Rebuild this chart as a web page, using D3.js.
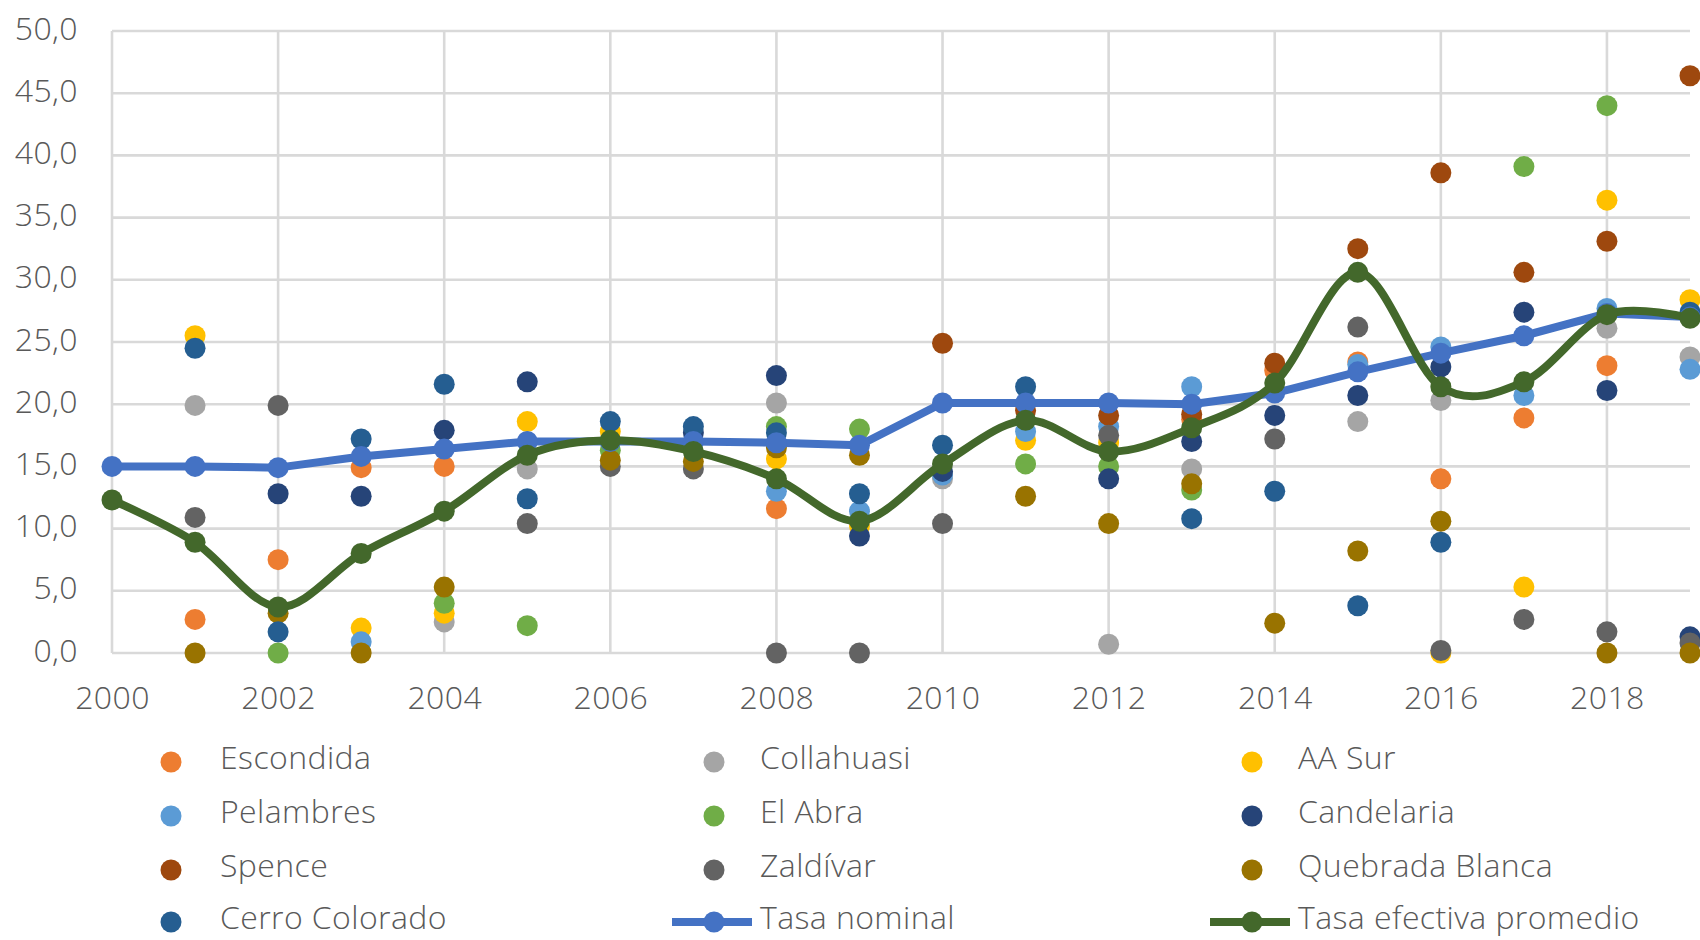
<!DOCTYPE html>
<html>
<head>
<meta charset="utf-8">
<script src="https://cdn.jsdelivr.net/npm/d3@7"></script>
<style>
  html, body { margin: 0; padding: 0; background: #ffffff; }
  svg { display: block; }
  text { font-family: "Open Sans", "DejaVu Sans", sans-serif; fill: #595959; font-weight: 300; letter-spacing: 0.4px; }
</style>
</head>
<body>
<svg id="chart" width="1700" height="940"></svg>
<script>
// ---- data ----
const years = [2000,2001,2002,2003,2004,2005,2006,2007,2008,2009,2010,2011,2012,2013,2014,2015,2016,2017,2018,2019];
const xTickYears = [2000,2002,2004,2006,2008,2010,2012,2014,2016,2018];
const yTickValues = [0,5,10,15,20,25,30,35,40,45,50];

const escondida      = [null, 2.7, 7.5, 14.9, 15.0, null, null, null, 11.6, null, null, null, null, 18.8, 22.7, 23.4, 14.0, 18.9, 23.1, null];
const collahuasi     = [null, 19.9, null, null, 2.5, 14.8, null, null, 20.1, null, 14.0, null, 0.7, 14.8, null, 18.6, 20.3, null, 26.1, 23.8];
const aaSur          = [null, 25.5, null, 2.0, 3.2, 18.6, 17.8, null, 15.6, 10.2, null, 17.1, 16.9, null, null, null, 0.0, 5.3, 36.4, 28.4];
const pelambres      = [null, null, null, 0.9, null, null, null, null, 13.0, 11.4, 14.3, 17.8, 18.2, 21.4, null, 23.2, 24.6, 20.7, 27.7, 22.8];
const elAbra         = [null, null, 0.0, null, 4.0, 2.2, 16.3, null, 18.2, 18.0, null, 15.2, 15.0, 13.1, null, null, null, 39.1, 44.0, null];
const candelaria     = [null, null, 12.8, 12.6, 17.9, 21.8, null, 17.7, 22.3, 9.4, 14.6, null, 14.0, 17.0, 19.1, 20.7, 23.0, 27.4, 21.1, 1.3];
const spence         = [null, null, null, null, null, null, null, null, null, null, 24.9, 19.5, 19.1, 19.2, 23.3, 32.5, 38.6, 30.6, 33.1, 46.4];
const zaldivar       = [null, 10.9, 19.9, null, null, 10.4, 15.0, 14.8, 0.0, 0.0, 10.4, null, 17.5, null, 17.2, 26.2, 0.2, 2.7, 1.7, 0.8];
const quebradaBlanca = [null, 0.0, 3.2, 0.0, 5.3, null, 15.5, 15.4, 16.5, 15.9, null, 12.6, 10.4, 13.6, 2.4, 8.2, 10.6, null, 0.0, 0.0];
const cerroColorado  = [null, 24.5, 1.7, 17.2, 21.6, 12.4, 18.6, 18.2, 17.7, 12.8, 16.7, 21.4, null, 10.8, 13.0, 3.8, 8.9, null, null, 27.4];
const tasaNominal    = [15.0, 15.0, 14.9, 15.8, 16.4, 17.0, 17.0, 17.0, 16.9, 16.7, 20.1, 20.1, 20.1, 20.0, 20.9, 22.6, 24.1, 25.5, 27.3, 27.0];
const tasaEfectiva   = [12.3, 8.9, 3.7, 8.0, 11.4, 15.9, 17.1, 16.2, 14.0, 10.6, 15.2, 18.7, 16.2, 18.1, 21.7, 30.6, 21.4, 21.8, 27.2, 26.9];

const scatterSeries = [
  {name: "Escondida",       values: escondida,      color: "#ED7D31"},
  {name: "Collahuasi",      values: collahuasi,     color: "#A5A5A5"},
  {name: "AA Sur",          values: aaSur,          color: "#FFC000"},
  {name: "Pelambres",       values: pelambres,      color: "#5B9BD5"},
  {name: "El Abra",         values: elAbra,         color: "#70AD47"},
  {name: "Candelaria",      values: candelaria,     color: "#264478"},
  {name: "Spence",          values: spence,         color: "#9E480E"},
  {name: "Zaldívar",        values: zaldivar,       color: "#636363"},
  {name: "Quebrada Blanca", values: quebradaBlanca, color: "#997300"},
  {name: "Cerro Colorado",  values: cerroColorado,  color: "#255E91"}
];
const lineSeries = [
  {name: "Tasa nominal",           values: tasaNominal,  color: "#4472C4", smooth: false},
  {name: "Tasa efectiva promedio", values: tasaEfectiva, color: "#43682B", smooth: true}
];

// ---- layout ----
const svg = d3.select("#chart");
const x = d3.scaleLinear().domain([2000, 2019]).range([112, 1690]);
const y = d3.scaleLinear().domain([0, 50]).range([653, 31]);
const fmt = v => d3.format(".1f")(v).replace(".", ",");
const R = 10.5;

// gridlines
const grid = svg.append("g");
grid.selectAll("line.h").data(yTickValues).enter().append("line")
  .attr("x1", x(2000)).attr("x2", x(2019))
  .attr("y1", d => y(d)).attr("y2", d => y(d))
  .attr("stroke", "#D9D9D9").attr("stroke-width", 2.6);
grid.selectAll("line.v").data(xTickYears).enter().append("line")
  .attr("x1", d => x(d)).attr("x2", d => x(d))
  .attr("y1", y(0)).attr("y2", y(50))
  .attr("stroke", "#D9D9D9").attr("stroke-width", 2.6);

// y axis labels
const yAxis = d3.axisLeft(y).tickValues(yTickValues).tickFormat(fmt).tickSize(0).tickPadding(0);
const gy = svg.append("g").attr("transform", "translate(78,0)").call(yAxis);
gy.select(".domain").remove();
gy.selectAll("text").attr("font-size", 32).attr("font-family", null).attr("dy", "8px").attr("fill", "#595959");

// x axis labels
const xAxis = d3.axisBottom(x).tickValues(xTickYears).tickFormat(d3.format("d")).tickSize(0).tickPadding(0);
const gx = svg.append("g").attr("transform", "translate(0,709)").call(xAxis);
gx.select(".domain").remove();
gx.selectAll("text").attr("font-size", 32).attr("font-family", null).attr("dy", 0).attr("fill", "#595959");

// scatter series
scatterSeries.forEach(s => {
  const pts = years.map((yr, i) => ({yr, v: s.values[i]})).filter(p => p.v !== null);
  svg.append("g").selectAll("circle").data(pts).enter().append("circle")
    .attr("cx", p => x(p.yr)).attr("cy", p => y(p.v)).attr("r", R)
    .attr("fill", s.color);
});

// line series
lineSeries.forEach(s => {
  const pts = years.map((yr, i) => ({yr, v: s.values[i]}));
  const line = d3.line().x(p => x(p.yr)).y(p => y(p.v))
    .curve(s.smooth ? d3.curveCardinal.tension(0) : d3.curveLinear);
  const g = svg.append("g");
  g.append("path").datum(pts).attr("d", line)
    .attr("fill", "none").attr("stroke", s.color).attr("stroke-width", 8)
    .attr("stroke-linejoin", "round").attr("stroke-linecap", "round");
  g.selectAll("circle").data(pts).enter().append("circle")
    .attr("cx", p => x(p.yr)).attr("cy", p => y(p.v)).attr("r", R)
    .attr("fill", s.color);
});

// legend
const legendItems = [
  {s: scatterSeries[0], type: "dot"}, {s: scatterSeries[1], type: "dot"}, {s: scatterSeries[2], type: "dot"},
  {s: scatterSeries[3], type: "dot"}, {s: scatterSeries[4], type: "dot"}, {s: scatterSeries[5], type: "dot"},
  {s: scatterSeries[6], type: "dot"}, {s: scatterSeries[7], type: "dot"}, {s: scatterSeries[8], type: "dot"},
  {s: scatterSeries[9], type: "dot"}, {s: lineSeries[0], type: "line"}, {s: lineSeries[1], type: "line"}
];
const colMarkerX = [171, 714, 1252];
const colTextX = [220, 760, 1298];
const rowBase = [769, 823, 877, 929];
const lg = svg.append("g");
legendItems.forEach((it, i) => {
  const col = i % 3, row = Math.floor(i / 3);
  const mx = colMarkerX[col], my = rowBase[row] - 7;
  if (it.type === "line") {
    lg.append("line").attr("x1", mx - 42).attr("x2", mx + 38).attr("y1", my).attr("y2", my)
      .attr("stroke", it.s.color).attr("stroke-width", 8);
  }
  lg.append("circle").attr("cx", mx).attr("cy", my).attr("r", R).attr("fill", it.s.color);
  lg.append("text").attr("x", colTextX[col]).attr("y", rowBase[row])
    .attr("font-size", 32).text(it.s.name);
});
</script>
</body>
</html>
